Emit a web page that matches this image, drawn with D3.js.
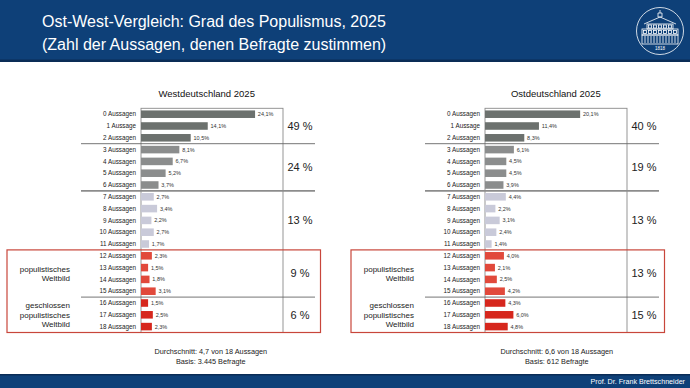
<!DOCTYPE html>
<html>
<head>
<meta charset="utf-8">
<script src="https://cdn.jsdelivr.net/npm/d3@7"></script>
<style>
  body { margin: 0; background: #fff; }
  svg { display: block; font-family: Arial, "Liberation Sans", sans-serif; }
</style>
</head>
<body>
<script>
// data
const categories = d3.range(19).map(i => i === 1 ? '1 Aussage' : `${i} Aussagen`)
const westValues = [24.1, 14.1, 10.5, 8.1, 6.7, 5.2, 3.7, 2.7, 3.4, 2.2, 2.7, 1.7, 2.3, 1.5, 1.8, 3.1, 1.5, 2.5, 2.3]
const eastValues = [20.1, 11.4, 8.3, 6.1, 4.5, 4.5, 3.9, 4.4, 2.2, 3.1, 2.4, 1.4, 4.0, 2.1, 2.5, 4.2, 4.3, 6.0, 4.8]
const groupRanges = [[0, 2], [3, 6], [7, 11], [12, 15], [16, 18]]
const westGroupShares = [49, 24, 13, 9, 6]
const eastGroupShares = [40, 19, 13, 13, 15]
const groupColors = ['#6c716e', '#8b8d8d', '#c9cad9', '#e1493b', '#d6271d']
const panelTitles = ['Westdeutschland 2025', 'Ostdeutschland 2025']
const panelNotes = [
    ['Durchschnitt: 4,7 von 18 Aussagen', 'Basis: 3.445 Befragte'],
    ['Durchschnitt: 6,6 von 18 Aussagen', 'Basis: 612 Befragte']
]

const m = { width: 690, height: 388 }

const svg = d3.select('body').append('svg')
    .attr('width', m.width)
    .attr('height', m.height)

// header band
svg.append('rect').attr('x', 0).attr('y', 0).attr('width', m.width).attr('height', 62).attr('fill', '#0e4078')
svg.append('rect').attr('x', 0).attr('y', 59.5).attr('width', m.width).attr('height', 2.5).attr('fill', '#0a2c56')
svg.append('text').attr('x', 42).attr('y', 27).attr('fill', '#fff').attr('font-size', 16)
    .text('Ost-West-Vergleich: Grad des Populismus, 2025')
svg.append('text').attr('x', 42).attr('y', 50).attr('fill', '#fff').attr('font-size', 16)
    .text('(Zahl der Aussagen, denen Befragte zustimmen)')

// university seal (simple line drawing)
const logo = svg.append('g').attr('transform', 'translate(660,31)')
    .attr('fill', 'none').attr('stroke', '#fff').attr('stroke-width', 0.8)
logo.append('circle').attr('r', 23.5)
logo.append('path').attr('d', 'M-2,-18 L2,-18 L2,-14 L-2,-14 Z M0,-21 L0,-18 M-16,-7 L0,-14 L16,-7')
logo.append('rect').attr('x', -13).attr('y', -7).attr('width', 26).attr('height', 5)
logo.append('rect').attr('x', -18).attr('y', -2).attr('width', 36).attr('height', 6)
logo.append('rect').attr('x', -18).attr('y', 4).attr('width', 36).attr('height', 9)
d3.range(-10, 11, 5).forEach(x => logo.append('rect').attr('x', x - 1.5).attr('y', -6).attr('width', 3).attr('height', 3))
d3.range(-15, 16, 5).forEach(x => logo.append('rect').attr('x', x - 1.5).attr('y', -0.5).attr('width', 3).attr('height', 3))
d3.range(-15, 16, 3).forEach(x => logo.append('line').attr('x1', x).attr('x2', x).attr('y1', 5).attr('y2', 12))
logo.append('text').attr('y', 19).attr('text-anchor', 'middle').attr('font-size', 4.5)
    .attr('fill', '#fff').attr('stroke', 'none').text('1818')

// footer band
svg.append('rect').attr('x', 0).attr('y', 374).attr('width', m.width).attr('height', 14).attr('fill', '#0e4078')
svg.append('rect').attr('x', 0).attr('y', 374).attr('width', m.width).attr('height', 1.5).attr('fill', '#0a2c56')
svg.append('text').attr('x', 685).attr('y', 384.3).attr('text-anchor', 'end')
    .attr('fill', '#fff').attr('font-size', 7.15).text('Prof. Dr. Frank Brettschneider')

// scales shared by both panels
const yScale = d3.scaleBand()
    .domain(categories)
    .range([108.3, 332.5])
    .paddingInner(0.36)
    .paddingOuter(0.18)

const xScale = d3.scaleLinear()
    .domain([0, 30])
    .range([141, 283])

const groupOf = i => groupRanges.findIndex(r => i >= r[0] && i <= r[1])
const fmt = v => d3.format('.1f')(v).replace('.', ',') + '%'

function drawPanel(values, shares, dx, titleX, noteX, title, notes) {
    const g = svg.append('g').attr('transform', `translate(${dx},0)`)
    const top = yScale.range()[0], bottom = yScale.range()[1]
    const step = yScale.step()

    g.append('text').attr('x', titleX).attr('y', 96.8).attr('text-anchor', 'middle')
        .attr('font-size', 9.5).attr('fill', '#111').text(title)

    // frame round the plot
    g.append('rect')
        .attr('x', xScale(0)).attr('y', top)
        .attr('width', xScale.range()[1] - xScale(0)).attr('height', bottom - top)
        .attr('fill', 'none').attr('stroke', '#8a8a8a').attr('stroke-width', 0.9)

    // bars
    g.selectAll('rect.bar')
        .data(values)
        .join(enter => enter.append('rect')
            .attr('class', 'bar')
            .attr('x', xScale(0))
            .attr('y', (d, i) => yScale(categories[i]))
            .attr('width', d => xScale(d) - xScale(0))
            .attr('height', yScale.bandwidth())
            .attr('fill', (d, i) => groupColors[groupOf(i)]))

    // value labels
    g.selectAll('text.val')
        .data(values)
        .join(enter => enter.append('text')
            .attr('class', 'val')
            .attr('x', d => xScale(d) + 2.8)
            .attr('y', (d, i) => yScale(categories[i]) + yScale.bandwidth() / 2)
            .attr('dy', '0.35em')
            .attr('font-size', 5.5)
            .attr('fill', '#333')
            .text(fmt))

    // category labels
    g.selectAll('text.cat')
        .data(categories)
        .join(enter => enter.append('text')
            .attr('class', 'cat')
            .attr('x', 136)
            .attr('y', d => yScale(d) + yScale.bandwidth() / 2)
            .attr('dy', '0.35em')
            .attr('text-anchor', 'end')
            .attr('font-size', 6.3)
            .attr('fill', '#222')
            .text(d => d))

    // group separators
    const sepStyle = [[0.9, '#666'], [1.8, '#8c8c8c'], null, [0.9, '#666']]
    sepStyle.forEach((s, k) => {
        if (!s) return
        const y = yScale(categories[groupRanges[k][1]]) - yScale.padding() * step / 2 + step
        g.append('line').attr('x1', 81).attr('x2', 315).attr('y1', y).attr('y2', y)
            .attr('stroke', s[1]).attr('stroke-width', s[0])
    })

    // group shares
    g.selectAll('text.share')
        .data(shares)
        .join(enter => enter.append('text')
            .attr('class', 'share')
            .attr('x', 300)
            .attr('y', (d, k) => {
                const r = groupRanges[k]
                return (yScale(categories[r[0]]) + yScale(categories[r[1]]) + yScale.bandwidth()) / 2
            })
            .attr('dy', '0.35em')
            .attr('text-anchor', 'middle')
            .attr('font-size', 11)
            .attr('fill', '#222')
            .text(d => `${d} %`))

    // red box around the populist rows
    const boxTop = yScale(categories[12]) - yScale.paddingOuter() * step
    g.append('rect')
        .attr('x', 7).attr('y', boxTop)
        .attr('width', 313.5).attr('height', bottom - boxTop)
        .attr('fill', 'none').attr('stroke', '#c8463b').attr('stroke-width', 1.2)

    // labels inside the red box
    const labelGroups = [[3, ['populistisches', 'Weltbild']], [4, ['geschlossen', 'populistisches', 'Weltbild']]]
    labelGroups.forEach(([k, lines]) => {
        const r = groupRanges[k]
        const mid = (yScale(categories[r[0]]) + yScale(categories[r[1]]) + yScale.bandwidth()) / 2
        lines.forEach((t, j) => {
            g.append('text').attr('x', 70)
                .attr('y', mid + (j - (lines.length - 1) / 2) * 9.4)
                .attr('dy', '0.35em').attr('text-anchor', 'end')
                .attr('font-size', 8).attr('fill', '#222').text(t)
        })
    })

    // notes below
    notes.forEach((t, j) => {
        g.append('text').attr('x', noteX).attr('y', 353.8 + j * 10.2)
            .attr('text-anchor', 'middle').attr('font-size', 7.3).attr('fill', '#222').text(t)
    })
}

drawPanel(westValues, westGroupShares, 0, 206.7, 210.8, panelTitles[0], panelNotes[0])
drawPanel(eastValues, eastGroupShares, 344, 211.8, 212.8, panelTitles[1], panelNotes[1])
</script>
</body>
</html>
